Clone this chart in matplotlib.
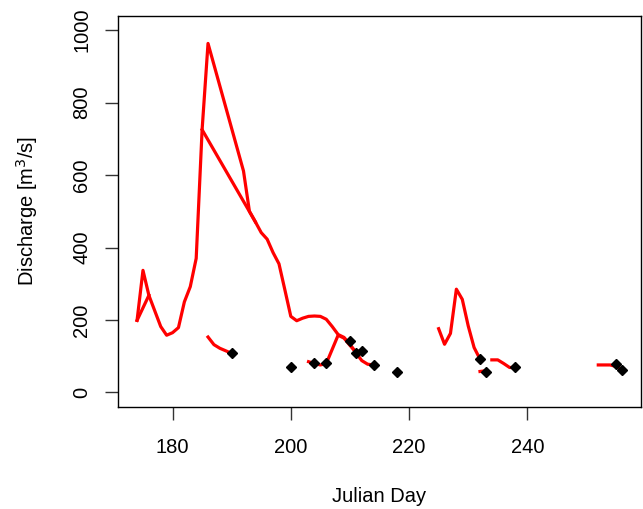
import numpy as np
import matplotlib
matplotlib.use('Agg')
import matplotlib.pyplot as plt

# main discharge series (daily, with a gap 187-191)
main_day = [174, 175, 176, 177, 178, 179, 180, 181, 182, 183, 184, 185, 186,
            192, 193, 194, 195, 196, 197, 198, 199, 200, 201, 202, 203, 204,
            205, 206, 207, 208, 209, 210, 211, 212, 213, 214]
main_q = [199, 337, 268, 225, 182, 158, 165, 179, 250, 292, 370, 725, 963,
          611, 500, 471, 441, 423, 386, 355, 283, 210, 198, 205, 210, 211,
          210, 202, 182, 160, 152, 133, 110, 88, 78, 76]

# second series (missing days -> straight connections)
alt_day = [174, 176]
alt_q = [199, 268]
alt2_day = [185, 194]
alt2_q = [725, 471]

# short event segments
seg_b_day = [186, 187, 188, 189, 190]
seg_b_q = [153, 132, 122, 115, 108]
seg_c_day = [203, 204, 205, 206, 207, 208, 209, 210, 211, 212]
seg_c_q = [85, 80, 76, 80, 119, 158, 150, 130, 112, 115]
seg_d_day = [225, 226, 227, 228, 229, 230, 231, 232]
seg_d_q = [176, 133, 163, 285, 257, 184, 124, 92]
seg_e_day = [232, 233]
seg_e_q = [58, 60]
seg_f_day = [234, 235, 236, 237, 238]
seg_f_q = [90, 90, 80, 69, 69]
seg_g_day = [252, 253, 254, 255, 256]
seg_g_q = [76, 76, 76, 72, 64]

# measured discharge
obs_day = [190, 200, 204, 206, 210, 211, 212, 214, 218, 232, 233, 238, 255, 256]
obs_q = [108, 71, 80, 80, 142, 110, 115, 76, 56, 92, 57, 69, 78, 63]

plt.rcParams['font.family'] = ['Liberation Sans', 'DejaVu Sans']
fs = 14.5

fig = plt.figure(figsize=(6.43, 5.09), dpi=100)
ax = fig.add_axes([0.1830, 0.2004, 0.8144, 0.7691])

segments = [(main_day, main_q), (alt_day, alt_q), (alt2_day, alt2_q),
            (seg_b_day, seg_b_q), (seg_c_day, seg_c_q), (seg_d_day, seg_d_q),
            (seg_e_day, seg_e_q), (seg_f_day, seg_f_q), (seg_g_day, seg_g_q)]
for d, q in segments:
    ax.plot(d, q, color='#FF0000', lw=2.3, solid_joinstyle='round', zorder=2)

ax.plot(obs_day, obs_q, linestyle='none', marker='D', ms=5, color='black', zorder=3)

# R-style axis ranges (4% padding)
xr = 256 - 174
ax.set_xlim(174 - 0.04 * xr, 256 + 0.04 * xr)
ax.set_ylim(-40, 1040)

ax.set_xticks([180, 200, 220, 240])
ax.set_yticks([0, 200, 400, 600, 800, 1000])
ax.tick_params(axis='x', length=9.5, width=1, color='#333333', labelsize=fs, pad=13)
ax.tick_params(axis='y', length=9.5, width=1, color='#333333', labelsize=fs, pad=9.5)
for lab in ax.get_yticklabels():
    lab.set_rotation(90)
    lab.set_va('center')

for sp in ax.spines.values():
    sp.set_linewidth(1.0)
    sp.set_color('black')

fig.text(0.5 * (117.7 + 641.3) / 643, 1 - 497 / 509, 'Julian Day',
         ha='center', va='center', fontsize=fs)
fig.text(26.7 / 643, 1 - 211 / 509, 'Discharge [m$^3$/s]', rotation=90,
         ha='center', va='center', fontsize=fs)

fig.savefig('out.png', dpi=100)
